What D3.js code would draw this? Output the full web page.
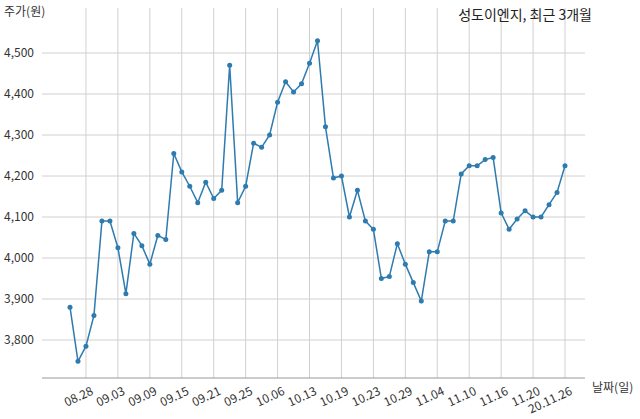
<!DOCTYPE html><html><head><meta charset="utf-8"><script src="https://cdn.jsdelivr.net/npm/d3@7"></script>
<style>body{margin:0;background:#fff}text{font-family:"Noto Sans CJK KR","Noto Sans",sans-serif}</style></head><body><svg width="640" height="419"></svg><script>
const values=[3880,3748,3785,3860,4090,4090,4025,3913,4060,4030,3985,4055,4045,4255,4210,4175,4135,4185,4145,4165,4470,4135,4175,4280,4270,4300,4380,4430,4405,4425,4475,4530,4320,4195,4200,4100,4165,4090,4070,3950,3955,4035,3985,3940,3895,4015,4015,4090,4090,4205,4225,4225,4240,4245,4110,4070,4095,4115,4100,4100,4130,4160,4225];
const tickLabels=["08.28","09.03","09.09","09.15","09.21","09.25","10.06","10.13","10.19","10.23","10.29","11.04","11.10","11.16","11.20","20.11.26"];
const tickIdx=tickLabels.map((d,i)=>2+4*i);
const yTicks=[3800,3900,4000,4100,4200,4300,4400,4500];
const svg=d3.select("svg");
const x=d3.scaleLinear().domain([0,values.length-1]).range([70,565]);
const y=d3.scaleLinear().domain([3800,4500]).range([340,53]);
const pTop=8,pBottom=378,pLeft=42,pRight=585;
const g=svg.append("g");
g.selectAll(".h").data(yTicks).join("line").attr("x1",pLeft).attr("x2",pRight).attr("y1",d=>y(d)).attr("y2",d=>y(d)).attr("stroke","#d0d0d0");
g.selectAll(".v").data(tickIdx).join("line").attr("x1",d=>x(d)).attr("x2",d=>x(d)).attr("y1",pTop).attr("y2",pBottom).attr("stroke","#d0d0d0");
g.append("line").attr("x1",pLeft).attr("x2",pRight).attr("y1",pBottom).attr("y2",pBottom).attr("stroke","#999");
g.selectAll(".yl").data(yTicks).join("text").attr("x",4).attr("y",d=>y(d)+4).attr("font-size",12).attr("fill","#333").text(d3.format(","));
g.selectAll(".xl").data(tickIdx).join("text").attr("font-size",12).attr("fill","#333").attr("text-anchor","end")
 .attr("transform",d=>`translate(${x(d)+8},${pBottom+16}) rotate(-25)`).text((d,i)=>tickLabels[i]);
svg.append("text").attr("x",4).attr("y",16).attr("font-size",12).attr("fill","#333").text("주가(원)");
svg.append("text").attr("x",592).attr("y",392).attr("font-size",12).attr("fill","#333").text("날짜(일)");
svg.append("text").attr("x",592).attr("y",20).attr("font-size",14).attr("fill","#222").attr("text-anchor","end").text("성도이엔지, 최근 3개월");
svg.append("path").datum(values).attr("fill","none").attr("stroke","#2e7bb0").attr("stroke-width",1.5)
 .attr("d",d3.line().x((d,i)=>x(i)).y(d=>y(d)));
svg.selectAll(".p").data(values).join("circle").attr("cx",(d,i)=>x(i)).attr("cy",d=>y(d)).attr("r",2.5).attr("fill","#2e7bb0");
</script></body></html>
